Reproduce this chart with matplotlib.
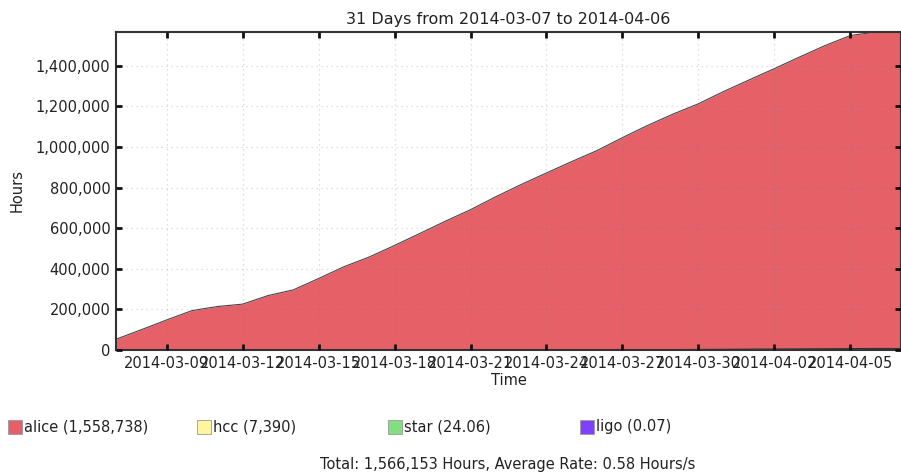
import numpy as np
import pandas as pd
import matplotlib
matplotlib.use('Agg')
import matplotlib.pyplot as plt
import matplotlib.dates as mdates
from matplotlib.patches import Rectangle
from matplotlib.ticker import FuncFormatter

# cumulative hours per day (last value held to the end of the range)
days = pd.date_range('2014-03-07', '2014-04-07', freq='D')
alice = [53000, 100000, 148000, 194000, 214000, 226000, 268000, 296000, 352000, 410000,
         458000, 515000, 574000, 634000, 691000, 755000, 815000, 872000, 928000, 982000,
         1045000, 1105000, 1160000, 1210000, 1270000, 1326000, 1381000, 1438000, 1493000,
         1542000, 1558738, 1558738]
hcc = [0] * 18 + [200, 500, 900, 1400, 2000, 2700, 3400, 4100, 4800, 5500, 6200, 6900,
                  7390, 7390]

series_names = ['alice', 'hcc', 'star', 'ligo']
series_totals = ['1,558,738', '7,390', '24.06', '0.07']
series_colors = ['#e66068', '#fff5a0', '#80e080', '#8040ff']

tick_dates = pd.date_range('2014-03-09', '2014-04-05', freq='3D')

fig = plt.figure(figsize=(9.01, 4.75), dpi=100)
ax = fig.add_axes([116 / 901, 1 - 350 / 475, 1.0 - 116 / 901, (350 - 32) / 475])

hcc_arr = np.array(hcc, dtype=float)
top = hcc_arr + np.array(alice, dtype=float)
ax.fill_between(days, 0, hcc_arr, color=series_colors[1], lw=0)
ax.plot(days, hcc_arr, color='#333333', lw=0.8)
ax.fill_between(days, hcc_arr, top, color=series_colors[0], lw=0)
ax.plot(days, top, color='#444444', lw=0.8)

ax.set_xlim(pd.Timestamp('2014-03-07'), pd.Timestamp('2014-04-07'))
ax.set_ylim(0, 1566153)
ax.set_xticks(tick_dates)
ax.xaxis.set_major_formatter(mdates.DateFormatter('%Y-%m-%d'))
ax.yaxis.set_major_formatter(FuncFormatter(lambda v, p: f'{int(v):,}'))
ax.set_yticks(np.arange(0, 1400001, 200000))

ax.tick_params(direction='in', length=4, width=2, top=True, right=True,
               labelsize=10.5, colors='#111111', labelcolor='#222222', pad=4)
ax.grid(True, color='#777777', alpha=0.3, linestyle=(0, (1, 3)), linewidth=0.9)
ax.set_axisbelow(False)
for s in ax.spines.values():
    s.set_color('#333333')
    s.set_linewidth(1.5)

ax.set_title('31 Days from 2014-03-07 to 2014-04-06', fontsize=11.5, color='#222222', pad=6)
ax.set_xlabel('Time', fontsize=10.5, color='#222222', labelpad=2)
ax.set_ylabel('Hours', fontsize=10.5, color='#222222', labelpad=8)

# legend row
leg_x = [8, 197, 388, 580]
for x, name, tot, col in zip(leg_x, series_names, series_totals, series_colors):
    fig.patches.append(Rectangle((x / 901, 1 - 434 / 475), 14 / 901, 14 / 475,
                                 transform=fig.transFigure, facecolor=col,
                                 edgecolor='#999999', lw=0.6))
    fig.text((x + 16) / 901, 1 - 427 / 475, f'{name} ({tot})', fontsize=10.5,
             color='#222222', va='center', ha='left')

fig.text(508 / 901, 1 - 465 / 475, 'Total: 1,566,153 Hours, Average Rate: 0.58 Hours/s',
         fontsize=10.5, color='#222222', va='center', ha='center')

fig.savefig('out.png', dpi=100)
